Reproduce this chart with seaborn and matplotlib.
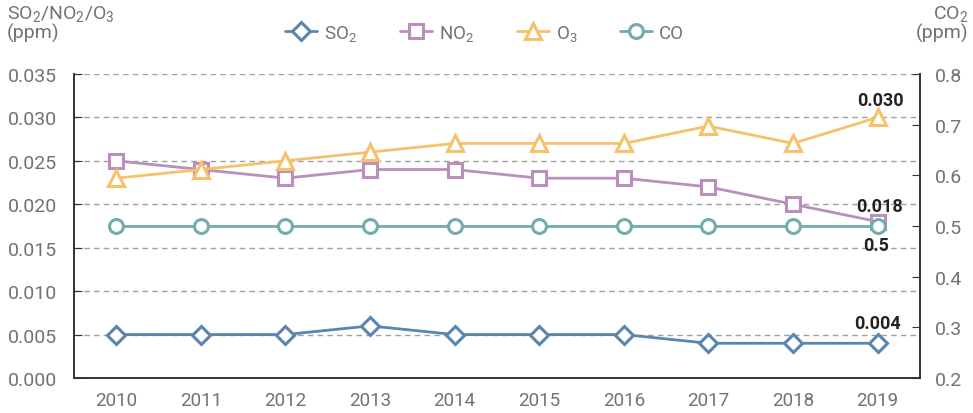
import numpy as np
import pandas as pd
import seaborn as sns
import matplotlib.pyplot as plt

years = ["2010", "2011", "2012", "2013", "2014", "2015", "2016", "2017", "2018", "2019"]
so2 = [0.005, 0.005, 0.005, 0.006, 0.005, 0.005, 0.005, 0.004, 0.004, 0.004]
no2 = [0.025, 0.024, 0.023, 0.024, 0.024, 0.023, 0.023, 0.022, 0.020, 0.018]
o3 = [0.023, 0.024, 0.025, 0.026, 0.027, 0.027, 0.027, 0.029, 0.027, 0.030]
co = [0.5, 0.5, 0.5, 0.5, 0.5, 0.5, 0.5, 0.5, 0.5, 0.5]

left_ticks = [0.000, 0.005, 0.010, 0.015, 0.020, 0.025, 0.030, 0.035]
right_ticks = [0.2, 0.3, 0.4, 0.5, 0.6, 0.7, 0.8]

sns.set_style("white")
plt.rcParams["font.family"] = ["Roboto", "DejaVu Sans"]
plt.rcParams["mathtext.fontset"] = "custom"
plt.rcParams["mathtext.rm"] = "Roboto"

GRAY = "#727272"
SPINE = "#333333"
c_so2, c_no2, c_o3, c_co = "#5a86ae", "#bb8fbb", "#f5c26b", "#72acad"

df = pd.DataFrame({"x": np.arange(len(years)), "SO2": so2, "NO2": no2, "O3": o3, "CO": co})

fig = plt.figure(figsize=(9.73, 4.14), dpi=100)
ax = fig.add_axes([0.076, 0.0845, 0.8695, 0.7345])
ax2 = ax.twinx()


def draw(axis, col, color, marker, size, z):
    sns.lineplot(data=df, x="x", y=col, ax=axis, color=color, marker=marker, markersize=size,
                 markerfacecolor="white", markeredgecolor=color, markeredgewidth=2.2,
                 linewidth=2.0, zorder=z, legend=False)


draw(ax, "SO2", c_so2, "D", 9.5, 3)
draw(ax, "NO2", c_no2, "s", 10, 3)
draw(ax, "O3", c_o3, "^", 11, 4)
draw(ax2, "CO", c_co, "o", 10, 3)

# left axis
ax.set_ylim(0, 0.035)
ax.set_yticks(left_ticks)
ax.set_yticklabels([f"{v:.3f}" for v in left_ticks])
ax.set_xlim(-0.5, len(years) - 0.5)
ax.set_xticks(np.arange(0.5, len(years) - 0.5, 1))
ax.set_xticklabels([])
ax.set_xticks(np.arange(len(years)), minor=True)
ax.set_xticklabels(years, minor=True)
ax.set_xlabel("")
ax.set_ylabel("")
ax.yaxis.grid(True, linestyle=(0, (4, 3)), color="#a0a0a0", linewidth=1)
ax.tick_params(axis="y", direction="in", length=6, color=SPINE, labelsize=14, labelcolor=GRAY, pad=12)
ax.tick_params(axis="x", which="major", direction="in", length=7, color=SPINE)
ax.tick_params(axis="x", which="minor", length=0, labelsize=13.5, labelcolor=GRAY, pad=9)

# right axis
ax2.set_ylim(0.2, 0.8)
ax2.set_yticks(right_ticks)
ax2.set_yticklabels([f"{v:.1f}" for v in right_ticks])
ax2.set_ylabel("")
ax2.tick_params(axis="y", direction="in", length=6, color=SPINE, labelsize=14, labelcolor=GRAY, pad=11)

for a in (ax, ax2):
    a.spines["top"].set_visible(False)
    for s in ("left", "right", "bottom"):
        a.spines[s].set_color(SPINE)
        a.spines[s].set_linewidth(1.2)

# end-of-series labels
ann_kw = dict(ha="center", fontsize=13, fontweight="bold", color="#222222")
last = len(years) - 1
ax.annotate(f"{o3[-1]:.3f}", (last, o3[-1]), xytext=(2, 6), textcoords="offset points", va="bottom", **ann_kw)
ax.annotate(f"{no2[-1]:.3f}", (last, no2[-1]), xytext=(1, 5), textcoords="offset points", va="bottom", **ann_kw)
ax.annotate(f"{so2[-1]:.3f}", (last, so2[-1]), xytext=(0, 8), textcoords="offset points", va="bottom", **ann_kw)
ax2.annotate(f"{co[-1]:.1f}", (last, co[-1]), xytext=(-1, -7), textcoords="offset points", va="top", **ann_kw)

# axis titles
fig.text(0.007, 0.99, "$\\mathregular{SO_2/NO_2/O_3}$\n(ppm)", ha="left", va="top",
         fontsize=14, color=GRAY, linespacing=1.0)
fig.text(0.995, 0.99, "$\\mathregular{CO_2}$\n(ppm)", ha="right", va="top",
         fontsize=14, color=GRAY, linespacing=1.0)

handles = ax.get_lines()[:3] + ax2.get_lines()[:1]
labels = ["$\\mathregular{SO_2}$", "$\\mathregular{NO_2}$", "$\\mathregular{O_3}$", "CO"]
fig.legend(handles, labels, loc="center", bbox_to_anchor=(0.498, 0.918), ncol=4, frameon=False,
           fontsize=13.5, labelcolor=GRAY, handlelength=1.7, handletextpad=0.37, columnspacing=2.3)

fig.savefig("out.png", dpi=100)
